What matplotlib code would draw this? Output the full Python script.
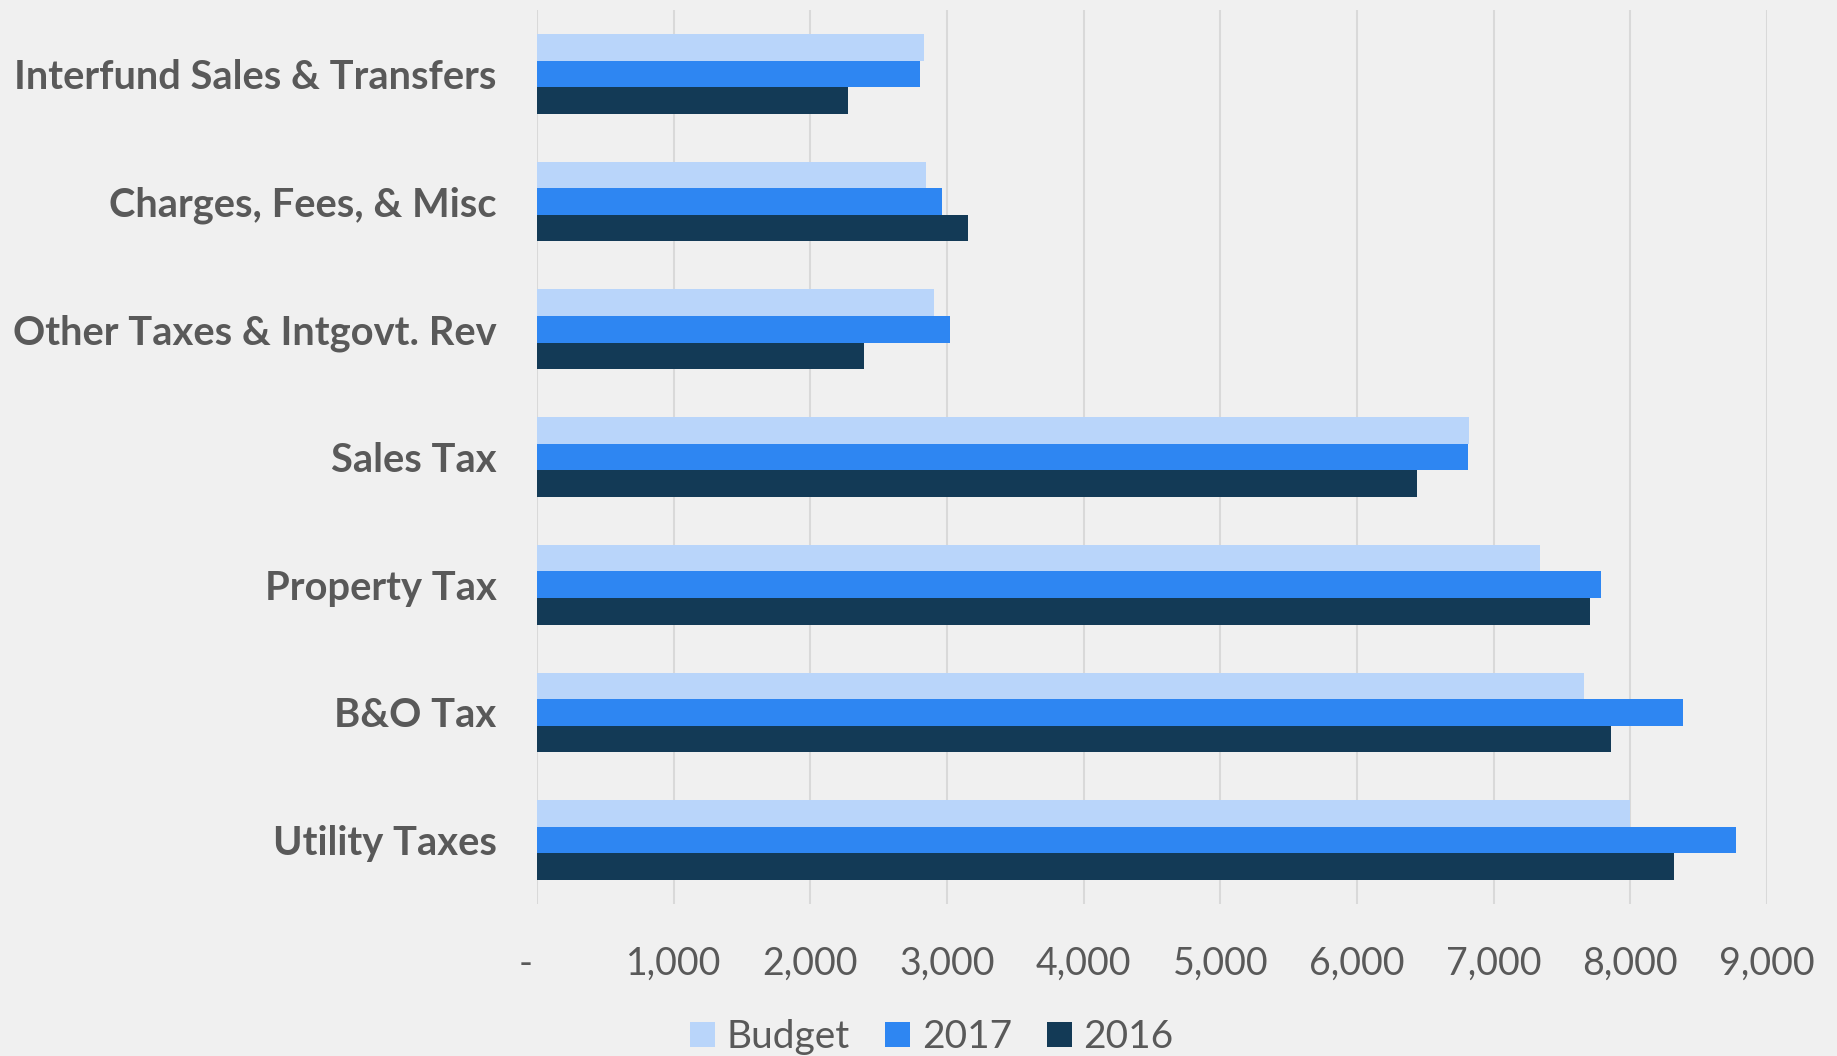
import numpy as np
import matplotlib
matplotlib.use("Agg")
from matplotlib import pyplot as plt
from matplotlib.patches import Patch
import matplotlib.transforms as mtransforms

# categories listed bottom-up, as they appear on the axis
categories = ["Utility Taxes", "B&O Tax", "Property Tax", "Sales Tax",
              "Other Taxes & Intgovt. Rev", "Charges, Fees, & Misc",
              "Interfund Sales & Transfers"]
budget = [8000, 7660, 7340, 6820, 2905, 2845, 2830]
y2017 = [8770, 8385, 7785, 6810, 3020, 2965, 2805]
y2016 = [8320, 7855, 7705, 6440, 2395, 3150, 2275]

series_names = ["Budget", "2017", "2016"]
colors = ["#b9d5fa", "#2e86f2", "#133a56"]
xticks = list(range(0, 10000, 1000))
xticklabels = ["-"] + ["{:,}".format(v) for v in xticks[1:]]

BG = "#f0f0f0"
TXT = "#595959"

fig = plt.figure(figsize=(18.37, 10.56), dpi=100, facecolor=BG)
ax = fig.add_axes([537 / 1837, 0.1439, 1230 / 1837, 0.8466], facecolor=BG)

y = np.arange(len(categories))
h = 0.208
for vals, off, col in zip((budget, y2017, y2016), (h, 0, -h), colors):
    ax.barh(y + off, vals, height=h, color=col, edgecolor="none", zorder=3)

ax.set_xlim(0, 9000)
ax.set_ylim(-0.5, len(categories) - 0.5)
ax.set_xticks(xticks)
ax.set_xticklabels(xticklabels, fontsize=27, color=TXT, family="Lato")
ax.set_yticks(y)
ax.set_yticklabels(categories, fontsize=28.7, color=TXT, family="Lato", fontweight="bold")
ax.tick_params(axis="x", length=0, pad=30)
ax.tick_params(axis="y", length=0, pad=29)

# shift the "-" zero label to the left like the accounting format
lbl0 = ax.get_xticklabels()[0]
lbl0.set_transform(lbl0.get_transform() + mtransforms.ScaledTranslation(-11 / 100, 0, fig.dpi_scale_trans))

ax.set_axisbelow(True)
ax.xaxis.grid(color="#d9d9d9", linewidth=1.5)
ax.yaxis.grid(False)
for s in ax.spines.values():
    s.set_visible(False)

handles = [Patch(facecolor=c, edgecolor="none") for c in colors]
fig.legend(handles, series_names, loc="center", bbox_to_anchor=(932 / 1837, 1 - 1037 / 1056),
           ncol=3, frameon=False, prop={"family": "Lato", "size": 28},
           labelcolor=TXT, handlelength=0.64, handleheight=0.62,
           handletextpad=0.3, columnspacing=0.9, borderpad=0, borderaxespad=0)

fig.savefig("out.png", dpi=100, facecolor=BG)
